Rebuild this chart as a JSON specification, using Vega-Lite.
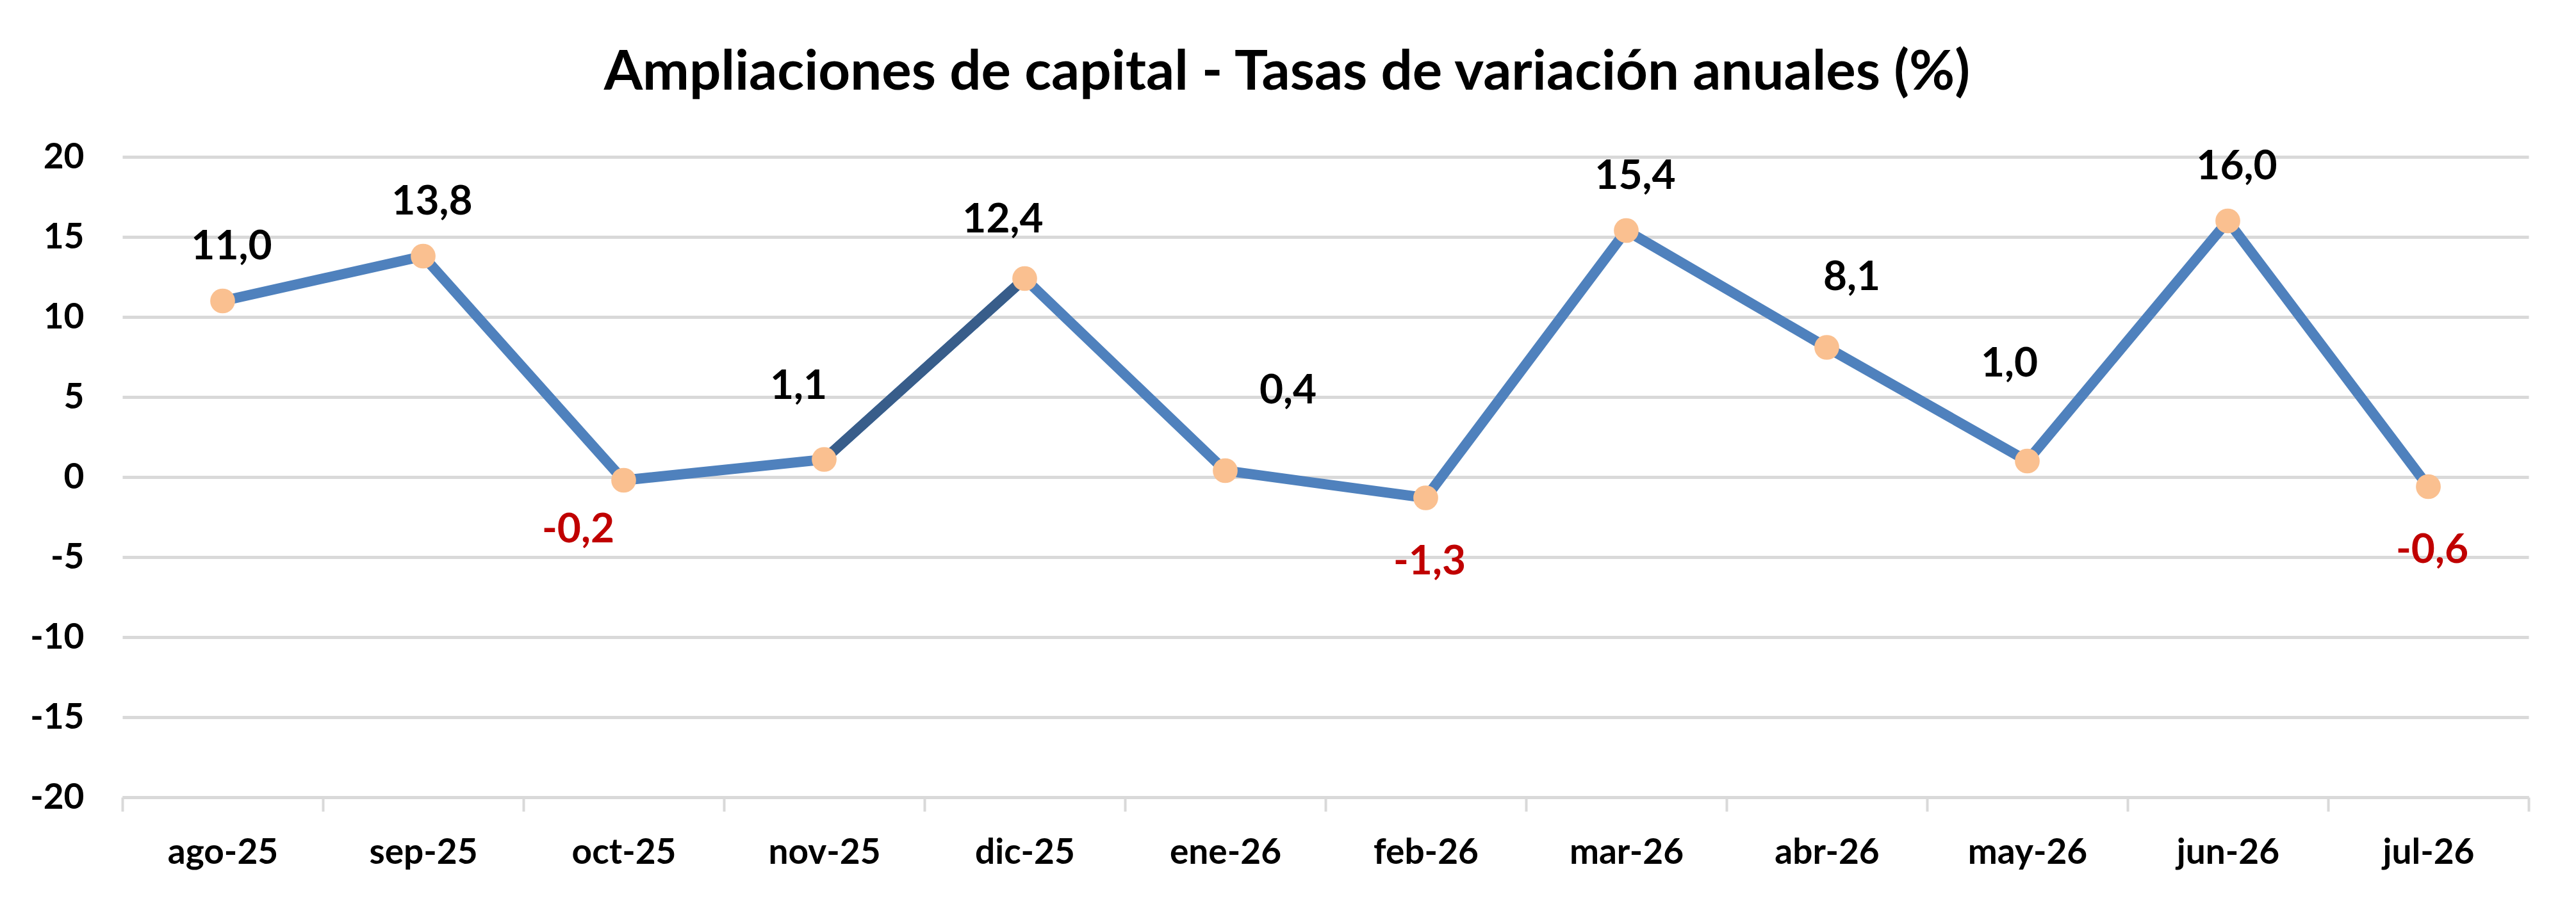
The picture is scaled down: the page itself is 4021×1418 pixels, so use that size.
{
  "$schema": "https://vega.github.io/schema/vega-lite/v6.json",
  "autosize": "none",
  "width": 3756,
  "height": 1000,
  "padding": {"left": 191, "top": 245, "right": 74, "bottom": 173},
  "background": "white",
  "config": {
    "locale": {"number": {"decimal": ",", "thousands": ".", "grouping": [3], "currency": ["", " €"], "minus": "-"}},
    "font": "Lato",
    "view": {"stroke": null}
  },
  "title": {
    "text": "Ampliaciones de capital - Tasas de variación anuales (%)",
    "font": "Lato",
    "fontSize": 87,
    "fontWeight": "bold",
    "color": "black",
    "anchor": "middle",
    "offset": 60,
    "dx": -60
  },
  "data": {
    "values": [
      {"mes": "ago-25", "v": 11.0},
      {"mes": "sep-25", "v": 13.8},
      {"mes": "oct-25", "v": -0.2},
      {"mes": "nov-25", "v": 1.1},
      {"mes": "dic-25", "v": 12.4},
      {"mes": "ene-26", "v": 0.4},
      {"mes": "feb-26", "v": -1.3},
      {"mes": "mar-26", "v": 15.4},
      {"mes": "abr-26", "v": 8.1},
      {"mes": "may-26", "v": 1.0},
      {"mes": "jun-26", "v": 16.0},
      {"mes": "jul-26", "v": -0.6}
    ]
  },
  "encoding": {
    "x": {
      "field": "mes", "type": "ordinal", "sort": null, "title": null,
      "scale": {"paddingInner": 0, "paddingOuter": 0},
      "axis": {
        "labelAngle": 0, "labelFont": "Lato", "labelFontSize": 55, "labelFontWeight": "bold", "labelColor": "black",
        "labelLimit": 0, "labelPadding": 38, "tickBand": "extent", "tickSize": 22, "tickWidth": 4, "tickColor": "#D9D9D9",
        "domainColor": "#D9D9D9", "domainWidth": 5, "grid": false
      }
    },
    "y": {
      "field": "v", "type": "quantitative", "title": null,
      "scale": {"domain": [-20, 20], "nice": false},
      "axis": {
        "values": [-20, -15, -10, -5, 0, 5, 10, 15, 20],
        "labelFont": "Lato", "labelFontSize": 55, "labelFontWeight": "bold", "labelColor": "black",
        "labelPadding": 60, "ticks": false, "domain": false,
        "gridColor": "#D9D9D9", "gridWidth": 5
      }
    },
    "color": {"condition": {"test": "datum.v < 0", "value": "#C00000"}, "value": "black"}
  },
  "layer": [
    {"mark": {"type": "line", "strokeWidth": 16}, "encoding": {"color": {"value": "#4F81BD"}}},
    {
      "transform": [{"filter": {"field": "mes", "oneOf": ["nov-25", "dic-25"]}}],
      "mark": {"type": "line", "strokeWidth": 16},
      "encoding": {"color": {"value": "#385D8A"}}
    },
    {"mark": {"type": "point", "filled": true, "opacity": 1, "size": 1500, "shape": "circle"}, "encoding": {"color": {"value": "#FAC090"}}},
    {
      "transform": [{"filter": {"field": "mes", "oneOf": ["ago-25", "sep-25", "mar-26", "jun-26"]}}],
      "mark": {"type": "text", "fontSize": 64, "fontWeight": "bold", "baseline": "middle", "dx": 14, "dy": -84},
      "encoding": {"text": {"field": "v", "type": "quantitative", "format": ".1f"}}
    },
    {
      "transform": [{"filter": {"field": "mes", "oneOf": ["feb-26", "jul-26"]}}],
      "mark": {"type": "text", "fontSize": 64, "fontWeight": "bold", "baseline": "middle", "dx": 6, "dy": 100},
      "encoding": {"text": {"field": "v", "type": "quantitative", "format": ".1f"}}
    },
    {
      "transform": [{"filter": {"field": "mes", "equal": "oct-25"}}],
      "mark": {"type": "text", "fontSize": 64, "fontWeight": "bold", "baseline": "middle", "dx": -71, "dy": 78},
      "encoding": {"text": {"field": "v", "type": "quantitative", "format": ".1f"}}
    },
    {
      "transform": [{"filter": {"field": "mes", "equal": "nov-25"}}],
      "mark": {"type": "text", "fontSize": 64, "fontWeight": "bold", "baseline": "middle", "dx": -40, "dy": -114},
      "encoding": {"text": {"field": "v", "type": "quantitative", "format": ".1f"}}
    },
    {
      "transform": [{"filter": {"field": "mes", "equal": "dic-25"}}],
      "mark": {"type": "text", "fontSize": 64, "fontWeight": "bold", "baseline": "middle", "dx": -34, "dy": -91},
      "encoding": {"text": {"field": "v", "type": "quantitative", "format": ".1f"}}
    },
    {
      "transform": [{"filter": {"field": "mes", "equal": "ene-26"}}],
      "mark": {"type": "text", "fontSize": 64, "fontWeight": "bold", "baseline": "middle", "dx": 98, "dy": -124},
      "encoding": {"text": {"field": "v", "type": "quantitative", "format": ".1f"}}
    },
    {
      "transform": [{"filter": {"field": "mes", "equal": "abr-26"}}],
      "mark": {"type": "text", "fontSize": 64, "fontWeight": "bold", "baseline": "middle", "dx": 39, "dy": -109},
      "encoding": {"text": {"field": "v", "type": "quantitative", "format": ".1f"}}
    },
    {
      "transform": [{"filter": {"field": "mes", "equal": "may-26"}}],
      "mark": {"type": "text", "fontSize": 64, "fontWeight": "bold", "baseline": "middle", "dx": -28, "dy": -151},
      "encoding": {"text": {"field": "v", "type": "quantitative", "format": ".1f"}}
    }
  ]
}
